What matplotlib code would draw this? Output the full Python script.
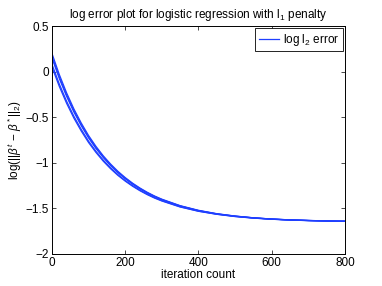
import matplotlib
matplotlib.use("Agg")
import matplotlib.pyplot as plt

plt.rcParams.update({
    "font.family": ["Liberation Sans", "DejaVu Sans"],
    "font.size": 8.5,
    "mathtext.fontset": "custom",
    "mathtext.rm": "Liberation Sans",
    "mathtext.it": "Liberation Sans:italic",
    "mathtext.bf": "Liberation Sans:bold",
    "axes.unicode_minus": True,
})

iterations = [0, 20, 40, 60, 80, 100, 120, 140, 160, 180, 200, 220, 240, 260,
              280, 300, 350, 400, 450, 500, 550, 600, 650, 700, 750, 800]

# log l2 error, one list per run
run_a = [0.20, -0.031, -0.233, -0.410, -0.564, -0.701, -0.819, -0.923, -1.013,
         -1.093, -1.162, -1.223, -1.276, -1.323, -1.364, -1.399, -1.470, -1.521,
         -1.558, -1.584, -1.603, -1.617, -1.626, -1.632, -1.638, -1.641]
run_b = [0.17, -0.057, -0.256, -0.430, -0.582, -0.716, -0.833, -0.934, -1.024,
         -1.102, -1.170, -1.229, -1.282, -1.328, -1.368, -1.403, -1.473, -1.524,
         -1.560, -1.585, -1.604, -1.617, -1.626, -1.633, -1.638, -1.641]
run_c = [0.15, -0.075, -0.271, -0.444, -0.593, -0.727, -0.842, -0.942, -1.031,
         -1.108, -1.175, -1.234, -1.286, -1.332, -1.371, -1.406, -1.475, -1.525,
         -1.561, -1.586, -1.604, -1.617, -1.627, -1.633, -1.638, -1.641]
run_d = [0.08, -0.136, -0.325, -0.491, -0.634, -0.763, -0.873, -0.970, -1.055,
         -1.129, -1.194, -1.250, -1.300, -1.344, -1.382, -1.415, -1.482, -1.530,
         -1.564, -1.588, -1.606, -1.619, -1.628, -1.634, -1.638, -1.642]
run_e = [0.05, -0.162, -0.348, -0.511, -0.652, -0.778, -0.886, -0.982, -1.065,
         -1.138, -1.201, -1.257, -1.306, -1.349, -1.387, -1.419, -1.485, -1.532,
         -1.565, -1.590, -1.607, -1.619, -1.628, -1.634, -1.638, -1.642]
runs = [run_a, run_b, run_c, run_d, run_e]

xticks = [0, 200, 400, 600, 800]
yticks = [-2, -1.5, -1, -0.5, 0, 0.5]

fig = plt.figure(figsize=(3.82, 2.86), dpi=100)
ax = fig.add_axes([0.136, 0.112, 0.767, 0.797])

for i, run in enumerate(runs):
    ax.plot(iterations, run, color="#1f3fff", linewidth=0.9,
            label=r"log l$_2$ error" if i == 0 else None)

ax.set_xlim(0, 800)
ax.set_ylim(-2, 0.5)
ax.set_xticks(xticks)
ax.set_yticks(yticks)
ax.set_yticklabels(["\u22122", "\u22121.5", "\u22121", "\u22120.5", "0", "0.5"])
ax.tick_params(direction="in", top=True, right=True, length=3, width=0.5, pad=2)
for sp in ax.spines.values():
    sp.set_linewidth(0.7)

ax.set_title(r"log error plot for logistic regression with l$_1$ penalty", fontsize=8.5, pad=6)
ax.set_xlabel("iteration count", labelpad=0)
ax.set_ylabel(r"log(||$\beta^t$ $-$ $\beta^*$||$_2$)", labelpad=1)

leg = ax.legend(loc="upper right", fancybox=False, framealpha=1, edgecolor="black",
                borderaxespad=0.2, handlelength=1.7, borderpad=0.3, handletextpad=0.3)
leg.get_frame().set_linewidth(0.6)

fig.savefig("out.png", dpi=100)
